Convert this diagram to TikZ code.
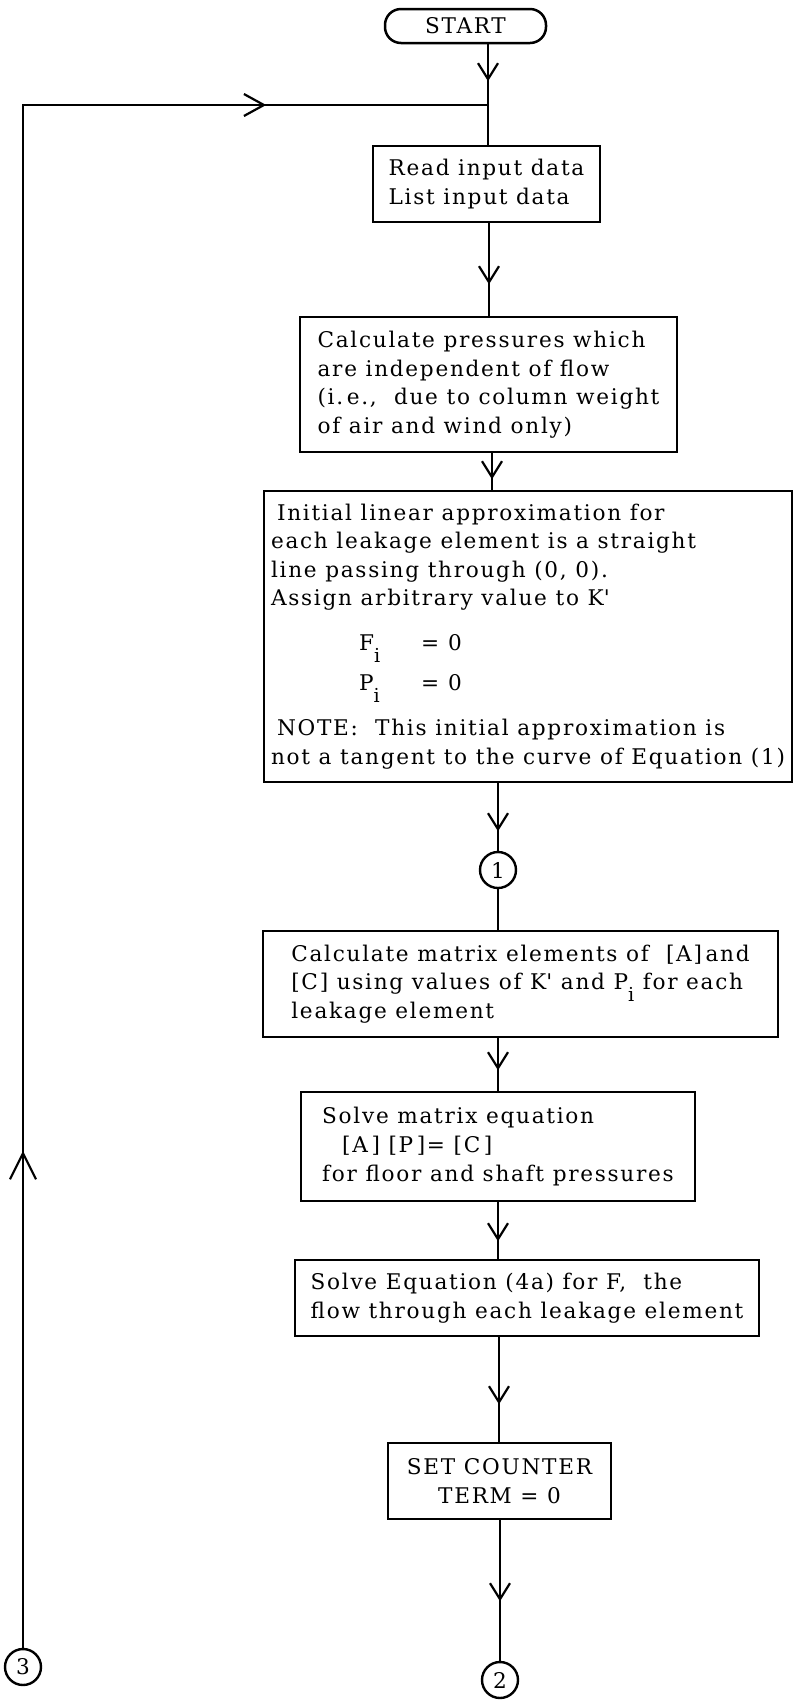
\documentclass[tikz,border=0pt]{standalone}
\usepackage{fontspec}
\setmainfont{DejaVu Serif}[LetterSpace=8]
\usetikzlibrary{arrows.meta,decorations.markings}
\newcommand\lowi{\raisebox{-6pt}[0pt][0pt]{\fontsize{9.6}{9.6}\selectfont i}}
\newcommand\Kp{K\textquotesingle}
\begin{document}
\begin{tikzpicture}[x=0.5pt,y=-0.5pt,
  every node/.style={font=\fontsize{10.8}{14.3}\selectfont},
  box/.style={draw, line width=1.25pt, rectangle, inner sep=2pt, align=left},
  conn/.style={draw, circle, line width=1.2pt, minimum size=18pt, inner sep=0pt},
  flow/.style={line width=1.1pt},
  tipat/.style={postaction={decorate,decoration={markings,mark=at position #1 with {\arrow{Straight Barb[length=8pt,width=10pt]}}}}},
]
\useasboundingbox (0,0) rectangle (795,1704);

\node[box, rounded corners=8pt, minimum width=80.5pt, minimum height=17pt, align=center] (start) at (465.5,26) {START};
\node[box, minimum width=113.5pt, minimum height=38pt] (read) at (486.5,184) {Read input data\\List input data};
\node[box, minimum width=188.5pt, minimum height=67.5pt] (calc) at (488.5,384.5) {Calculate pressures which\\are independent of flow\\(i.\,e., \ due to column weight\\of air and wind only)};
\node[box, minimum width=264pt, minimum height=145.5pt] (init) at (528,636.5) {\hspace*{3pt}Initial linear approximation for\\each leakage element is a straight\\line passing through (0, 0).\\Assign arbitrary value to \Kp\\[8.2pt]\hspace*{44pt}\makebox[31pt][l]{F\lowi}=\hspace*{4.5pt}0\\[5.7pt]\hspace*{44pt}\makebox[31pt][l]{P\lowi}=\hspace*{4.5pt}0\\[8.2pt]\hspace*{3pt}NOTE: \ This initial approximation is\\not a tangent to the curve of Equation (1)};
\node[conn] (c1) at (498,870) {1};
\node[box, minimum width=257.5pt, minimum height=53pt] (matrix) at (520.5,984) {Calculate matrix elements of \ [A]\,and\\{}[C] using values of \Kp{} and P\lowi{} for each\\leakage element};
\node[box, minimum width=197pt, minimum height=54.5pt] (solvem) at (498,1146.5) {Solve matrix equation\\\hspace*{10pt}[A\,]\ [P\,]=\ [C\,]\\for floor and shaft pressures};
\node[box, minimum width=232pt, minimum height=38pt] (solvef) at (527,1298) {Solve Equation (4a) for F, \ the\\flow through each leakage element};
\node[box, minimum width=111.5pt, minimum height=38pt, align=center] (setc) at (499.5,1481) {SET COUNTER\\TERM = 0};
\node[conn] (c2) at (500,1680) {2};
\node[conn] (c3) at (23,1667) {3};

\coordinate (xa) at (488,0);
\coordinate (xb) at (489,0);
\coordinate (xc) at (492,0);
\coordinate (xd) at (499,0);
\coordinate (lj) at (488,105);

\draw[flow, tipat=18.5pt] (start.south -| xa) -- (read.north -| xa);
\draw[flow, tipat=30.5pt] (read.south -| xb) -- (calc.north -| xb);
\draw[flow, tipat=13pt] (calc.south -| xc) -- (init.north -| xc);
\draw[flow, tipat=24pt] (init.south -| c1) -- (c1.north);
\draw[flow] (c1.south) -- (matrix.north -| c1);
\draw[flow, tipat=16pt] (matrix.south -| c1) -- (solvem.north -| c1);
\draw[flow, tipat=19.5pt] (solvem.south -| c1) -- (solvef.north -| c1);
\draw[flow, tipat=33.5pt] (solvef.south -| xd) -- (setc.north -| xd);
\draw[flow, tipat=40.5pt] (setc.south -| c2) -- (c2.north);
\draw[flow, postaction={decorate, decoration={markings,
    mark=at position 248.5pt with {\arrow{Straight Barb[length=13pt,width=13pt]}},
    mark=at position 893pt with {\arrow{Straight Barb[length=10pt,width=11pt]}}}}]
  (c3.north) -- (c3.north |- lj) -- (lj);
\end{tikzpicture}
\end{document}
